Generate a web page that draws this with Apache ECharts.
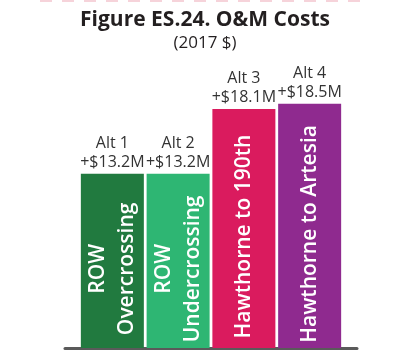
<!DOCTYPE html>
<html>
<head>
<meta charset="utf-8">
<script src="https://cdn.jsdelivr.net/npm/echarts@6/dist/echarts.min.js"></script>
<style>html,body{margin:0;padding:0;background:#fff}#c{width:410px;height:361px}</style>
</head>
<body>
<div id="c"></div>
<script>
const categories = ['Alt 1', 'Alt 2', 'Alt 3', 'Alt 4'];
const values = [13.2, 13.2, 18.1, 18.5];
const valueLabels = ['+$13.2M', '+$13.2M', '+$18.1M', '+$18.5M'];
const barNames = ['ROW\nOvercrossing', 'ROW\nUndercrossing', 'Hawthorne to 190th', 'Hawthorne to Artesia'];
const barColors = ['#217a3f', '#2eb673', '#da1b5e', '#8f2a8f'];

const chart = echarts.init(document.getElementById('c'), null, {renderer: 'canvas'});
const mainData = values.map((v, i) => ({value: [i, v], name: barNames[i], itemStyle: {color: barColors[i]}}));
const topData = values.map((v, i) => ({value: [i, v], name: categories[i] + '\n' + valueLabels[i]}));

chart.setOption({
  animation: false,
  title: {
    text: 'Figure ES.24. O&M Costs',
    subtext: '(2017 $)',
    left: 'center',
    top: 5,
    itemGap: 4,
    textStyle: {fontFamily: 'Open Sans', fontWeight: 700, fontSize: 21, color: '#231f20'},
    subtextStyle: {fontFamily: 'Open Sans', fontWeight: 400, fontSize: 17, color: '#231f20'}
  },
  grid: {left: 65, right: 53, top: 18, bottom: 13},
  xAxis: {
    type: 'value', min: -0.72, max: 3.72,
    splitLine: {show: false}, axisTick: {show: false}, axisLabel: {show: false},
    axisLine: {show: true, onZero: false, lineStyle: {color: '#5a5a5a', width: 3}}
  },
  yAxis: {type: 'value', min: 0, max: 25, show: false},
  series: [
    {
      type: 'bar', barWidth: 63, data: mainData,
      label: {
        show: true, position: 'inside', rotate: 90, offset: [-8, 0],
        formatter: p => p.name,
        fontFamily: 'Open Sans', fontWeight: 600, fontSize: 21, lineHeight: 29,
        color: '#fff', align: 'center', verticalAlign: 'middle'
      }
    },
    {
      type: 'bar', barWidth: 63, barGap: '-100%', data: topData, silent: true,
      itemStyle: {color: 'rgba(0,0,0,0)'},
      label: {
        show: true, position: 'top', distance: 2,
        formatter: p => p.name,
        fontFamily: 'Open Sans', fontSize: 16, lineHeight: 19, color: '#333'
      }
    }
  ],
  graphic: [{
    type: 'line', shape: {x1: 40, y1: 1, x2: 370, y2: 1},
    style: {stroke: '#f6d3da', lineWidth: 2, lineDash: [12, 10]}
  }]
});
</script>
</body>
</html>
